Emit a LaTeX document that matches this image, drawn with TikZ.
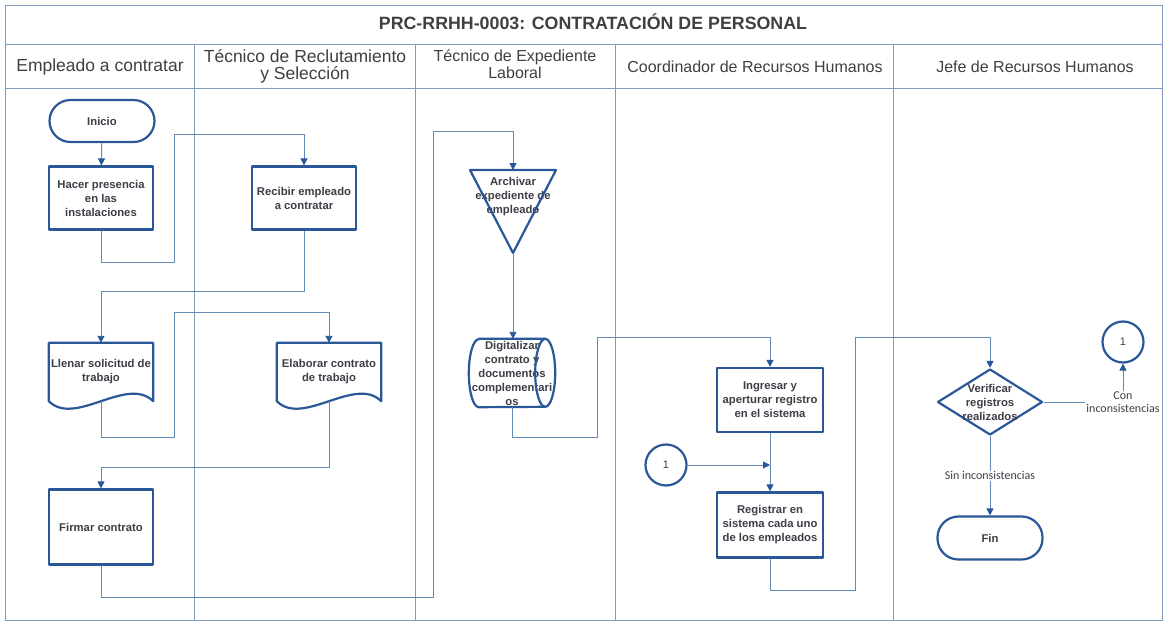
\documentclass[tikz,border=0pt]{standalone}
\usepackage{fontspec}
\setmainfont{Liberation Sans}
\newfontfamily\lblfont{Carlito}
\usetikzlibrary{arrows.meta,shapes.geometric,calc}

\definecolor{lanec}{HTML}{7F9CBF}
\definecolor{linec}{HTML}{6288B4}
\definecolor{shapec}{HTML}{2A5798}
\definecolor{txtc}{HTML}{3E3E48}
\definecolor{headc}{HTML}{404040}

\tikzset{
  lane/.style={draw=lanec, line width=0.9pt},
  flow/.style={draw=linec, line width=0.9pt, -{Triangle[length=7pt,width=7pt,color=shapec]}},
  shapeline/.style={draw=shapec, line width=2.2pt, line join=round},
  steptext/.style={align=center, text=txtc, inner sep=0pt,
    font=\fontsize{11.3}{14}\selectfont\bfseries},
  stepbox/.style={steptext, shapeline, rectangle, minimum width=104pt, minimum height=63pt},
  termbox/.style={steptext, shapeline, rectangle, rounded corners=21pt, minimum width=105pt, minimum height=42pt},
  docbox/.style={steptext, rectangle, minimum width=104pt, minimum height=58pt},
  conn/.style={shapeline, circle, minimum size=41pt, inner sep=0pt, text=txtc,
    font=\fontsize{11}{13}\selectfont},
  lanehead/.style={align=center, text=headc, font=\fontsize{16}{17}\selectfont},
  bighead/.style={align=center, text=headc, font=\fontsize{17.5}{17}\selectfont},
  lbl/.style={font=\lblfont\fontsize{12}{13}\selectfont, text=txtc, fill=white,
    inner sep=1pt, align=center},
}

% document shape with a wavy bottom edge drawn round a node
\newcommand\docoutline[1]{%
  \draw[shapeline] (#1.south east) -- (#1.north east) -- (#1.north west) -- (#1.south west)
    .. controls ($(#1.south west)!0.25!(#1.south east)+(0,26)$)
           and ($(#1.south west)!0.75!(#1.south east)+(0,-26)$) .. cycle;}

\begin{document}
\begin{tikzpicture}[x=1pt,y=-1pt]
\useasboundingbox (0,0) rectangle (1164,623);
\fill[white] (0,0) rectangle (1164,623);

% frame, title row and lane headers
\draw[lane] (5,5) rectangle (1162,620);
\draw[lane] (5,44) -- (1162,44);
\draw[lane] (5,88) -- (1162,88);
\foreach \lx in {194,415,615,893} \draw[lane] (\lx,44) -- (\lx,620);

\node[font=\fontsize{17.8}{18}\selectfont\bfseries, text=headc] (title) at (593,22)
  {PRC-RRHH-0003: CONTRATACIÓN DE PERSONAL};
\node[bighead] (h1) at (100,67) {Empleado a contratar};
\node[bighead] (h2) at (305,66) {Técnico de Reclutamiento\\y Selección};
\node[lanehead] (h3) at (515,64) {Técnico de Expediente\\Laboral};
\node[lanehead] (h4) at (755,67) {Coordinador de Recursos Humanos};
\node[lanehead] (h5) at (1035,67) {Jefe de Recursos Humanos};

% lane 1: Empleado a contratar
\node[termbox] (inicio) at (102,121) {Inicio};
\node[stepbox] (hacer) at (101,198) {Hacer presencia\\en las\\instalaciones};
\node[docbox] (llenar) at (101,372) {Llenar solicitud de\\trabajo};
\docoutline{llenar}
\node[stepbox, minimum height=75pt] (firmar) at (101,527) {Firmar contrato};

% lane 2: Técnico de Reclutamiento y Selección
\node[stepbox] (recibir) at (304,198) {Recibir empleado\\a contratar};
\node[docbox] (elaborar) at (329,372) {Elaborar contrato\\de trabajo};
\docoutline{elaborar}

% lane 3: Técnico de Expediente Laboral
\node[steptext] (archivar) at (513,197) {Archivar\\expediente de\\empleado};
\coordinate (archtop) at ($(archivar)+(0,-27)$);
\coordinate (archapex) at ($(archivar)+(0,56)$);
\draw[shapeline] ($(archivar)+(-43,-27)$) -- ($(archivar)+(43,-27)$) -- (archapex) -- cycle;

\node[steptext, minimum width=86pt, minimum height=68pt] (digital) at (512,373)
  {Digitalizar\\contrato y\\documentos\\complementari\\os};
\draw[shapeline] ($(digital.north west)+(10,0)$) -- ($(digital.north east)+(-10,0)$)
  arc[start angle=90, end angle=-90, x radius=10pt, y radius=34pt]
  -- ($(digital.south west)+(10,0)$)
  arc[start angle=270, end angle=90, x radius=10pt, y radius=34pt] -- cycle;
\draw[shapeline] ($(digital.north east)+(-10,0)$)
  arc[start angle=90, end angle=270, x radius=10pt, y radius=34pt];

% lane 4: Coordinador de Recursos Humanos
\node[stepbox, minimum width=106pt, minimum height=64pt] (ingresar) at (770,400)
  {Ingresar y\\aperturar registro\\en el sistema};
\node[stepbox, minimum width=106pt, minimum height=65pt] (registrar) at (770,525)
  {Registrar en\\sistema cada uno\\de los empleados};
\node[conn] (conA) at (666,465) {1};

% lane 5: Jefe de Recursos Humanos
\node[diamond, shapeline, minimum width=105pt, minimum height=66pt, inner sep=0pt] (verif) at (990,402) {};
\node[steptext] (veriftxt) at (verif) {Verificar\\registros\\realizados};
\node[termbox, minimum height=43pt] (fin) at (990,538) {Fin};
\node[conn] (conB) at (1123,342) {1};

% connectors
\draw[flow] (inicio) -- (hacer);
\draw[flow] (hacer.south) -- ++(0,32) -| (174,134) -| (recibir.north);
\draw[flow] (recibir.south) -- ++(0,61) -| (llenar.north);
\draw[flow] (llenar.south) -- ++(0,36) -| (174,312) -| (elaborar.north);
\draw[flow] (elaborar.south) -- ++(0,66) -| (firmar.north);
\draw[flow] (firmar.south) -- ++(0,32) -| (433,131) -| (archtop);
\draw[flow] (archapex) -- (archapex |- digital.north);
\draw[flow] (digital.south) -- ++(0,30) -| (597,337) -| (ingresar.north);
\draw[flow] (ingresar) -- (registrar);
\draw[flow] (conA) -- (conA -| ingresar.south);
\draw[flow] (registrar.south) -- ++(0,32) -| (855,337) -| (verif.north);
\draw[flow] (verif.south) -- (fin.north) node[midway, lbl] {Sin inconsistencias};
\draw[flow] (verif.east) -| (conB.south) node[pos=0.5, lbl] {Con\\inconsistencias};
\end{tikzpicture}
\end{document}
